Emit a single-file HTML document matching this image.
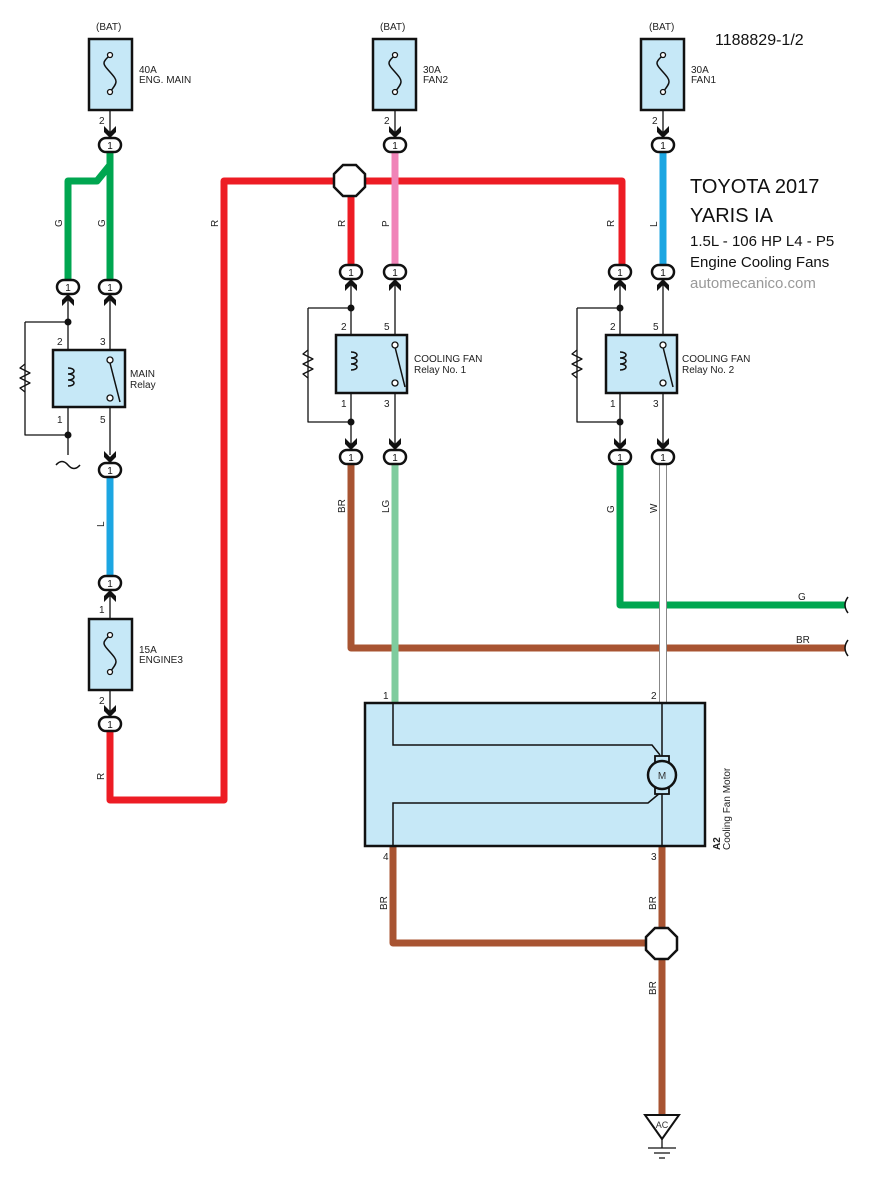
<!DOCTYPE html>
<html><head><meta charset="utf-8"><style>body{margin:0;background:#fff}svg{display:block}text{font-family:"Liberation Sans",sans-serif}</style></head><body>
<svg width="888" height="1178" viewBox="0 0 888 1178" xmlns="http://www.w3.org/2000/svg">
<defs>
<path id="dn" d="M-6,-19 L0,-13 L6,-19 L6,-13 L0,-7 L-6,-13 Z" fill="#111"/>
<path id="up" d="M-6,19 L0,13 L6,19 L6,13 L0,7 L-6,13 Z" fill="#111"/>
<rect id="cn" x="-11" y="-7" width="22" height="14" rx="7" fill="#fff" stroke="#111" stroke-width="2.5"/>
</defs>
<g fill="none" stroke-linejoin="round">
<!-- wires -->
<path d="M110,152 V280 M110,165 L97,181 H68 V280" stroke="#00a650" stroke-width="7"/>
<path d="M110,477 V578" stroke="#1ca6e2" stroke-width="7"/>
<path d="M110,730 V800 H224 V181 H622 V266" stroke="#ed1c24" stroke-width="7"/>
<path d="M351,181 V266" stroke="#ed1c24" stroke-width="7"/>
<path d="M395,152 V266" stroke="#f084b8" stroke-width="7"/>
<path d="M663,152 V266" stroke="#1ca6e2" stroke-width="7"/>
<path d="M351,464 V648 H845" stroke="#a85432" stroke-width="7"/>
<path d="M395,464 V704" stroke="#7fcc9e" stroke-width="7"/>
<path d="M620,464 V605 H845" stroke="#00a650" stroke-width="7"/>
<path d="M663,464 V704" stroke="#888" stroke-width="8"/>
<path d="M663,464 V704" stroke="#fff" stroke-width="6"/>
<path d="M393,846 V943 H662 M662,846 V1116" stroke="#a85432" stroke-width="7"/>
<!-- thin wires -->
<g stroke="#111" stroke-width="1.3">
<path d="M110,110 V135 M395,110 V135 M663,110 V135 M110,690 V712"/>
<path d="M68,300 V455 M110,300 V455 M25,322 H68 M25,322 V435 H68"/>
<path d="M351,285 V445 M395,285 V445 M308,308 H351 M308,308 V422 H351"/>
<path d="M620,285 V445 M663,285 V445 M577,308 H620 M577,308 V422 H620"/>
<path d="M110,596 V620"/>
<path d="M56,465 q6,-7 12,0 t12,0" stroke-width="1.5"/>
<path d="M848,597 q-6,8 0,16 M848,640 q-6,8 0,16" stroke-width="1.5"/>
</g>
<!-- resistors -->
<g stroke="#111" stroke-width="1.3">
<path d="M25,364 l-5,4 l10,5 l-10,5 l10,5 l-10,5 l5,4"/>
<path d="M308,350 l-5,4 l10,5 l-10,5 l10,5 l-10,5 l5,4"/>
<path d="M577,350 l-5,4 l10,5 l-10,5 l10,5 l-10,5 l5,4"/>
</g>
</g>
<g fill="#111"><circle cx="68" cy="322" r="3.5"/><circle cx="68" cy="435" r="3.5"/><circle cx="351" cy="308" r="3.5"/><circle cx="351" cy="422" r="3.5"/><circle cx="620" cy="308" r="3.5"/><circle cx="620" cy="422" r="3.5"/></g>
<!-- fuses -->
<g stroke="#111" stroke-width="2.5" fill="#c6e8f7">
<rect x="89" y="39" width="43" height="71"/><rect x="373" y="39" width="43" height="71"/><rect x="641" y="39" width="43" height="71"/><rect x="89" y="619" width="43" height="71"/>
<rect x="53" y="350" width="72" height="57"/><rect x="336" y="335" width="71" height="58"/><rect x="606" y="335" width="71" height="58"/>
<rect x="365" y="703" width="340" height="143"/>
</g>
<g stroke="#111" stroke-width="1.5" fill="none">
<path d="M110,55 c-8,8 -8,8 0,17 c8,9 8,10 0,20 M395,55 c-8,8 -8,8 0,17 c8,9 8,10 0,20 M663,55 c-8,8 -8,8 0,17 c8,9 8,10 0,20 M110,635 c-8,8 -8,8 0,17 c8,9 8,10 0,20"/>
<path d="M68,368 c8,0 8,6 0,6 c8,0 8,6 0,6 c8,0 8,6 0,6 M351,352 c8,0 8,6 0,6 c8,0 8,6 0,6 c8,0 8,6 0,6 M620,352 c8,0 8,6 0,6 c8,0 8,6 0,6 c8,0 8,6 0,6" fill="#c6e8f7"/>
<path d="M110,363 L120,402 M395,347 L405,387 M663,347 L673,387"/>
<path d="M393,703 V745 H652 L660,755 M393,846 V803 H648 L660,793 M662,703 V846"/>
</g>
<g fill="#fff" stroke="#111" stroke-width="1.3">
<circle cx="110" cy="55" r="2.5"/><circle cx="110" cy="92" r="2.5"/><circle cx="395" cy="55" r="2.5"/><circle cx="395" cy="92" r="2.5"/><circle cx="663" cy="55" r="2.5"/><circle cx="663" cy="92" r="2.5"/><circle cx="110" cy="635" r="2.5"/><circle cx="110" cy="672" r="2.5"/>
<circle cx="110" cy="360" r="3"/><circle cx="110" cy="398" r="3"/><circle cx="395" cy="345" r="3"/><circle cx="395" cy="383" r="3"/><circle cx="663" cy="345" r="3"/><circle cx="663" cy="383" r="3"/>
</g>
<!-- motor -->
<rect x="655" y="756" width="14" height="6" fill="#c6e8f7" stroke="#111" stroke-width="1.8"/>
<rect x="655" y="788" width="14" height="6" fill="#c6e8f7" stroke="#111" stroke-width="1.8"/>
<circle cx="662" cy="775" r="14" fill="#c6e8f7" stroke="#111" stroke-width="2.5"/>
<text x="662" y="779" font-size="10" text-anchor="middle" fill="#333">M</text>
<!-- splices -->
<polygon points="343,165 356,165 365,174 365,187 356,196 343,196 334,187 334,174" fill="#fff" stroke="#111" stroke-width="2.5"/>
<polygon points="655,928 668,928 677,937 677,950 668,959 655,959 646,950 646,937" fill="#fff" stroke="#111" stroke-width="2.5"/>
<!-- ground -->
<polygon points="645,1115 679,1115 662,1139" fill="#fff" stroke="#111" stroke-width="2"/>
<text x="662" y="1128" font-size="9" text-anchor="middle" fill="#333">AC</text>
<path d="M662,1139 V1148 M648,1148 H676 M654,1153 H670 M659,1158 H665" stroke="#111" stroke-width="1.3"/>
<!-- connectors -->
<g>
<use href="#dn" x="110" y="145"/><use href="#cn" x="110" y="145"/>
<use href="#dn" x="395" y="145"/><use href="#cn" x="395" y="145"/>
<use href="#dn" x="663" y="145"/><use href="#cn" x="663" y="145"/>
<use href="#up" x="68" y="287"/><use href="#cn" x="68" y="287"/>
<use href="#up" x="110" y="287"/><use href="#cn" x="110" y="287"/>
<use href="#dn" x="110" y="470"/><use href="#cn" x="110" y="470"/>
<use href="#up" x="110" y="583"/><use href="#cn" x="110" y="583"/>
<use href="#dn" x="110" y="724"/><use href="#cn" x="110" y="724"/>
<use href="#up" x="351" y="272"/><use href="#cn" x="351" y="272"/>
<use href="#up" x="395" y="272"/><use href="#cn" x="395" y="272"/>
<use href="#up" x="620" y="272"/><use href="#cn" x="620" y="272"/>
<use href="#up" x="663" y="272"/><use href="#cn" x="663" y="272"/>
<use href="#dn" x="351" y="457"/><use href="#cn" x="351" y="457"/>
<use href="#dn" x="395" y="457"/><use href="#cn" x="395" y="457"/>
<use href="#dn" x="620" y="457"/><use href="#cn" x="620" y="457"/>
<use href="#dn" x="663" y="457"/><use href="#cn" x="663" y="457"/>
</g>
<g font-size="10" text-anchor="middle" fill="#111">
<text x="110" y="149">1</text><text x="395" y="149">1</text><text x="663" y="149">1</text>
<text x="68" y="291">1</text><text x="110" y="291">1</text><text x="110" y="474">1</text><text x="110" y="587">1</text><text x="110" y="728">1</text>
<text x="351" y="276">1</text><text x="395" y="276">1</text><text x="620" y="276">1</text><text x="663" y="276">1</text>
<text x="351" y="461">1</text><text x="395" y="461">1</text><text x="620" y="461">1</text><text x="663" y="461">1</text>
</g>
<!-- labels -->
<g font-size="10" fill="#222">
<text x="96" y="30">(BAT)</text><text x="380" y="30">(BAT)</text><text x="649" y="30">(BAT)</text>
<text x="139" y="73">40A</text><text x="139" y="83">ENG. MAIN</text>
<text x="423" y="73">30A</text><text x="423" y="83">FAN2</text>
<text x="691" y="73">30A</text><text x="691" y="83">FAN1</text>
<text x="139" y="653">15A</text><text x="139" y="663">ENGINE3</text>
<text x="130" y="377">MAIN</text><text x="130" y="388">Relay</text>
<text x="414" y="362">COOLING FAN</text><text x="414" y="373">Relay No. 1</text>
<text x="682" y="362">COOLING FAN</text><text x="682" y="373">Relay No. 2</text>
<text x="99" y="124">2</text><text x="384" y="124">2</text><text x="652" y="124">2</text>
<text x="57" y="345">2</text><text x="100" y="345">3</text><text x="57" y="423">1</text><text x="100" y="423">5</text>
<text x="341" y="330">2</text><text x="384" y="330">5</text><text x="341" y="407">1</text><text x="384" y="407">3</text>
<text x="610" y="330">2</text><text x="653" y="330">5</text><text x="610" y="407">1</text><text x="653" y="407">3</text>
<text x="99" y="613">1</text><text x="99" y="704">2</text>
<text x="383" y="699">1</text><text x="651" y="699">2</text><text x="383" y="860">4</text><text x="651" y="860">3</text>
<text x="798" y="600">G</text><text x="796" y="643">BR</text>
</g>
<g font-size="10" fill="#222">
<text transform="translate(62,227) rotate(-90)">G</text>
<text transform="translate(105,227) rotate(-90)">G</text>
<text transform="translate(218,227) rotate(-90)">R</text>
<text transform="translate(345,227) rotate(-90)">R</text>
<text transform="translate(389,227) rotate(-90)">P</text>
<text transform="translate(614,227) rotate(-90)">R</text>
<text transform="translate(657,227) rotate(-90)">L</text>
<text transform="translate(104,527) rotate(-90)">L</text>
<text transform="translate(104,780) rotate(-90)">R</text>
<text transform="translate(345,513) rotate(-90)">BR</text>
<text transform="translate(389,513) rotate(-90)">LG</text>
<text transform="translate(614,513) rotate(-90)">G</text>
<text transform="translate(657,513) rotate(-90)">W</text>
<text transform="translate(387,910) rotate(-90)">BR</text>
<text transform="translate(656,910) rotate(-90)">BR</text>
<text transform="translate(656,995) rotate(-90)">BR</text>
<text transform="translate(720,850) rotate(-90)" font-weight="bold">A2</text>
<text transform="translate(730,850) rotate(-90)">Cooling Fan Motor</text>
</g>
<text x="715" y="45" font-size="16" fill="#111">1188829-1/2</text>
<text x="690" y="193" font-size="20" fill="#111">TOYOTA 2017</text>
<text x="690" y="222" font-size="20" fill="#111">YARIS IA</text>
<text x="690" y="246" font-size="15" fill="#111">1.5L - 106 HP  L4 - P5</text>
<text x="690" y="267" font-size="15" fill="#111">Engine Cooling Fans</text>
<text x="690" y="288" font-size="15" fill="#999">automecanico.com</text>
</svg>
</body></html>
